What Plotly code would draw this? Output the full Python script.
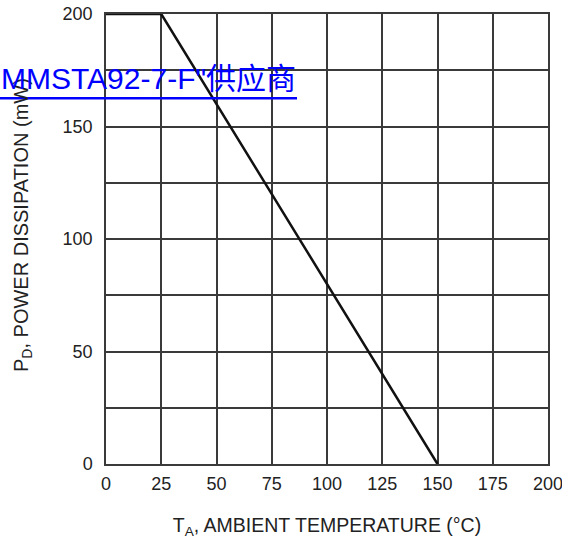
import plotly.graph_objects as go

temp_c = [0, 25, 150]
power_mw = [200, 200, 0]
x_ticks = [0, 25, 50, 75, 100, 125, 150, 175, 200]
y_ticks = [0, 50, 100, 150, 200]
watermark = "MMSTA92-7-F\"供应商"
x_title = "T<sub>A</sub>, AMBIENT TEMPERATURE (°C)"
y_title = "P<sub>D</sub>, POWER DISSIPATION (mW)"

font_family = "Liberation Sans, Arial, sans-serif"
grid_col = "#3a3a3a"

L, R, T, B, W, H = 106, 14, 14, 80, 562, 544
PW, PH = W - L - R, H - T - B


def px(xp):
    return (xp - L) / PW


def py(yp):
    return (H - B - yp) / PH


fig = go.Figure()
fig.add_trace(go.Scatter(x=temp_c, y=power_mw, mode="lines",
                         line=dict(color="#111111", width=2.5),
                         showlegend=False, hoverinfo="skip"))

fig.update_layout(
    width=W, height=H,
    margin=dict(l=L, r=R, t=T, b=B, autoexpand=False),
    paper_bgcolor="white", plot_bgcolor="white",
    font=dict(family=font_family, size=18, color="#222222"),
    xaxis=dict(range=[0, 200], tickvals=x_ticks, showgrid=True, gridcolor=grid_col, gridwidth=1.5,
               showline=True, linecolor=grid_col, linewidth=1.5, mirror=True, zeroline=False,
               ticks="", ticklabelstandoff=3, automargin=False, ticklabeloverflow="allow",
               title=dict(text=x_title, font=dict(size=19.5), standoff=25)),
    yaxis=dict(range=[0, 200], tickvals=y_ticks, showgrid=True, gridcolor=grid_col, gridwidth=1.5,
               minor=dict(dtick=25, showgrid=True, gridcolor=grid_col, gridwidth=1.5),
               showline=True, linecolor=grid_col, linewidth=1.5, mirror=True, zeroline=False,
               ticks="", ticklabelstandoff=8, automargin=False),
)

fig.add_annotation(xref="paper", yref="paper", x=px(22), y=py(225), xanchor="center", yanchor="middle",
                   text=y_title, textangle=-90, showarrow=False,
                   font=dict(family=font_family, size=20, color="#222222"))

fig.add_annotation(xref="paper", yref="paper", x=px(-1), y=py(78.5), xanchor="left", yanchor="middle",
                   text=watermark, showarrow=False,
                   font=dict(family="Liberation Sans, Noto Sans CJK SC, sans-serif", size=30, color="#0000ff"))
fig.add_shape(type="line", xref="paper", yref="paper", x0=px(0), x1=px(297), y0=py(98.3), y1=py(98.3),
              line=dict(color="#0000ff", width=2.5))

fig.write_html("out.html")
